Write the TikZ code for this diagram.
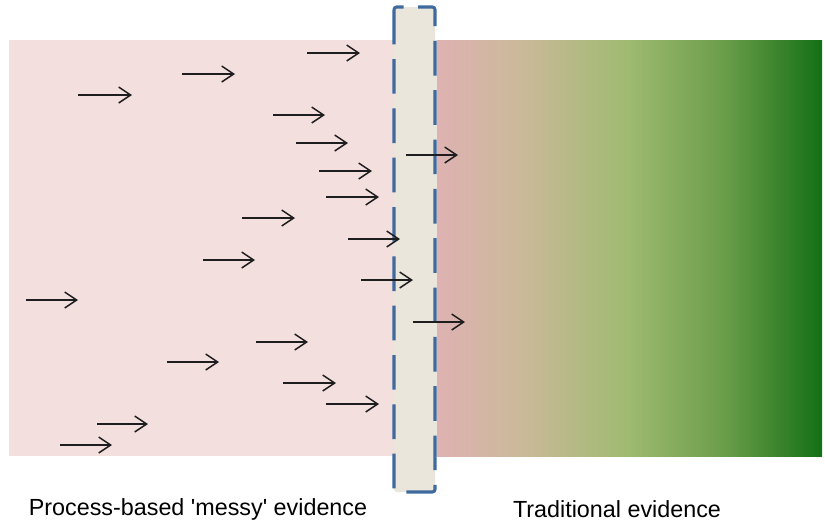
\documentclass[tikz,border=0pt]{standalone}
\usepackage{fontspec}
\setmainfont{Liberation Sans}[Ligatures=ResetAll]
\usetikzlibrary{arrows.meta}

\definecolor{messypink}{HTML}{F4DFDF}
\definecolor{bandfill}{HTML}{EAE6DB}
\definecolor{bandblue}{HTML}{3F6A9E}
\definecolor{arrowgray}{HTML}{1E1E1E}

% pink -> tan -> light green -> dark green (visible part 25bp..75bp)
\pgfdeclarehorizontalshading{evidence}{100bp}{%
    color(0bp)=({rgb,255:red,222;green,178;blue,178});
    color(25bp)=({rgb,255:red,222;green,178;blue,178});
    color(36bp)=({rgb,255:red,203;green,185;blue,153});
    color(50bp)=({rgb,255:red,158;green,186;blue,112});
    color(62bp)=({rgb,255:red,108;green,158;blue,74});
    color(75bp)=({rgb,255:red,20;green,112;blue,22});
    color(100bp)=({rgb,255:red,20;green,112;blue,22})}

\begin{document}
\begin{tikzpicture}[
    x=0.75pt, y=-0.75pt,
    flow/.style={arrowgray,line width=1.1pt,-{Straight Barb[length=9pt,width=12pt,line width=1.1pt]}},
    band/.style={bandblue,fill=bandfill,line width=2.3pt,dash pattern=on 26pt off 11pt,rounded corners=2pt},
    caption/.style={font=\fontsize{17.5}{20}\selectfont,inner sep=0pt}
]

\useasboundingbox (0,0) rectangle (825,526);

% =========================
% Evidence areas
% =========================
\fill[messypink] (9,40) rectangle (415,456);
\shade[shading=evidence] (437,40) rectangle (822,456);
\fill[bandfill] (415,40) rectangle (437,456);

% Boundary band
\draw[band] (394,7) rectangle (435,492);

% =========================
% Arrows (tail x / head x / y)
% =========================
\foreach \a/\b/\y in {307/360/53, 182/235/74, 78/132/95, 273/325/115,
    296/348/143, 319/372/171, 326/379/197, 242/295/218, 348/400/239,
    203/255/260, 361/413/280, 26/78/300, 256/308/342, 167/219/362,
    283/336/383, 326/379/404, 97/148/424, 60/112/445,
    406/458/155, 413/465/322}
{
    \coordinate (t) at (\a,\y);
    \coordinate (h) at (\b,\y);
    \draw[flow] (t) -- (h);
}

% =========================
% Captions
% =========================
\node[caption] (messy) at (198,509) {Process-based \textquotesingle messy\textquotesingle{} evidence};
\node[caption] (trad) at (617,509) {Traditional evidence};

\end{tikzpicture}
\end{document}
